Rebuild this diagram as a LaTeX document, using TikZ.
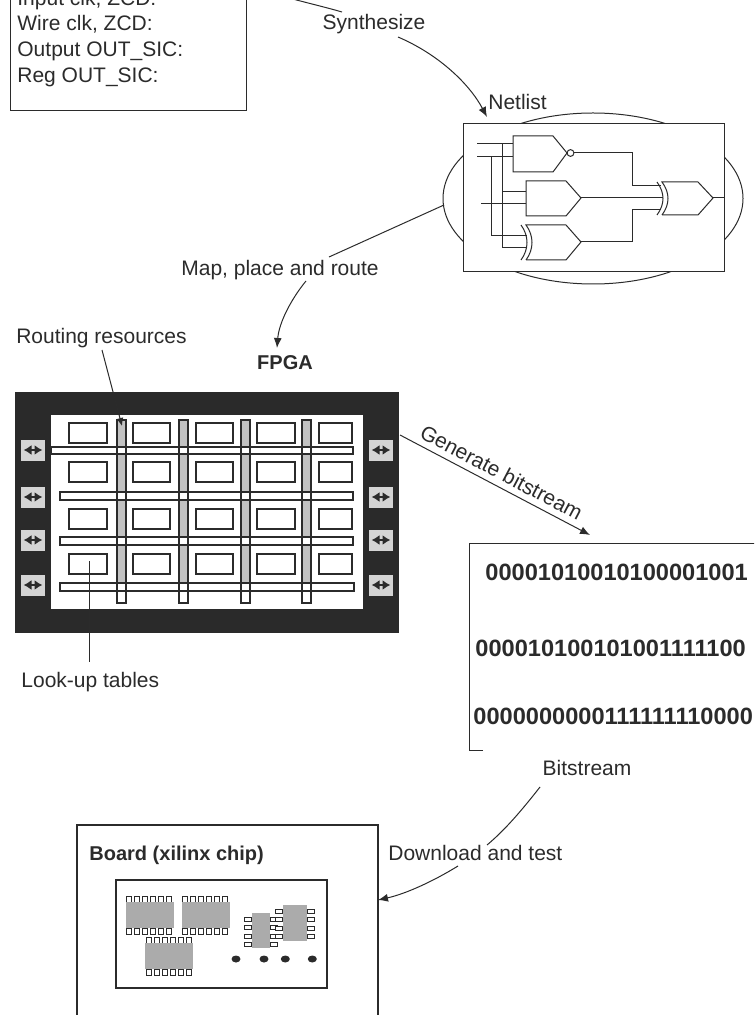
\documentclass[tikz,border=0pt]{standalone}
\usepackage{fontspec}
\setmainfont{Liberation Sans}
\usepackage{xcolor}
\usepackage{tikz}
\usetikzlibrary{arrows.meta}

\definecolor{ink}{HTML}{2B2B2B}
\definecolor{fpgaback}{HTML}{2A2A2A}
\definecolor{busgray}{HTML}{C2C2C2}
\definecolor{padgray}{HTML}{D4D4D4}
\definecolor{chipgray}{HTML}{ABABAB}

\tikzset{
  lbl/.style={font=\fontsize{10.5}{12}\selectfont,text=ink,inner sep=0pt},
  head/.style={lbl,font=\bfseries\fontsize{10}{12}\selectfont},
  bits/.style={lbl,font=\bfseries\fontsize{11.8}{14}\selectfont},
  wire/.style={draw=ink,line width=0.5pt},
  flow/.style={wire,-{Latex[length=5pt,width=4pt]}},
  lut/.style={draw=ink,fill=white,line width=0.6pt},
  pin/.style={draw=ink,fill=white,line width=0.4pt},
  io/.style={ink,line width=1.1pt,{Latex[length=4pt,width=5pt]}-{Latex[length=4pt,width=5pt]}},
}

% chip seen from above: #1 = left, #2 = top of the body
\newcommand{\hchip}[2]{%
  \foreach \k in {0,...,5}{
    \draw[pin] ({#1+1+8*\k},#2) rectangle ++(5,-6);
    \draw[pin] ({#1+1+8*\k},{#2+26}) rectangle ++(5,6);
  }
  \fill[chipgray] (#1,#2) rectangle ++(48,26);}
% upright chip: left, top, width, height
\newcommand{\vchip}[4]{%
  \foreach \k in {0,...,3}{
    \draw[pin] (#1,{#2+4+8.5*\k}) rectangle ++(-7,4);
    \draw[pin] ({#1+#3},{#2+4+8.5*\k}) rectangle ++(7,4);
  }
  \fill[chipgray] (#1,#2) rectangle ++(#3,#4);}

\begin{document}
\begin{tikzpicture}[x=0.5pt,y=-0.5pt]
        \useasboundingbox (0,0) rectangle (754,1015);
        \clip (0,0) rectangle (754,1015);

        %%% SOURCE %%%
        \draw[wire] (10,-30) rectangle (246,111);
        \node[lbl,anchor=base west] (src-in) at (17,5.2) {Input clk, ZCD:};
        \node[lbl,anchor=base west] (src-wire) at (17,31) {Wire clk, ZCD:};
        \node[lbl,anchor=base west] (src-out) at (17,56.8) {Output OUT\_SIC:};
        \node[lbl,anchor=base west] (src-reg) at (17,82.6) {Reg OUT\_SIC:};

        %%% SYNTHESIZE %%%
        \node[lbl,anchor=base] (synth) at (374,29.5) {Synthesize};
        \coordinate (src-tail) at (248,-14);
        \coordinate (synth-in) at (342,12);
        \coordinate (synth-out) at (398,37);
        \coordinate (net-tip) at (487,117);
        \draw[wire] (src-tail) .. controls (285,-2) and (318,5) .. (synth-in);
        \draw[flow] (synth-out) .. controls (440,55) and (470,85) .. (net-tip);

        %%% NETLIST %%%
        \node[lbl,anchor=base west] (netlist) at (488,110) {Netlist};
        \draw[wire] (593,198.5) ellipse [x radius=75pt,y radius=42.75pt];
        \node[draw=ink,fill=white,line width=0.5pt,minimum width=130.5pt,minimum height=74pt,inner sep=0pt] (netbox) at (593.5,198) {};
        % gates
        \draw[wire] (513,136) -- (553,136) -- (567,153) -- (553,172) -- (513,172) -- cycle;
        \draw[wire] (570.5,153) circle [radius=1.7pt];
        \draw[wire] (526,181) -- (566,181) -- (581,198) -- (566,216) -- (526,216) -- cycle;
        \draw[wire] (526,260) -- (566,260) -- (581,242) -- (566,225) -- (526,225) .. controls (534,236) and (534,249) .. (526,260);
        \draw[wire] (521,225) .. controls (529,236) and (529,249) .. (521,260);
        \draw[wire] (662,215) -- (698,215) -- (713,198) -- (698,182) -- (662,182) .. controls (670,193) and (670,204) .. (662,215);
        \draw[wire] (657,182) .. controls (665,193) and (665,204) .. (657,215);
        % nets
        \draw[wire] (477,144) -- (513,144);
        \draw[wire] (477,157) -- (513,157);
        \draw[wire] (491,157) |- (527,236);
        \draw[wire] (502,144) |- (527,248);
        \draw[wire] (502,192) -- (526,192);
        \draw[wire] (481,204) -- (526,204);
        \draw[wire] (574,153) -| (632,186) -- (661,186);
        \draw[wire] (581,198) -- (663,198);
        \draw[wire] (581,242) -| (632,210) -- (661,210);
        \draw[wire] (713,198) -- (724,198);

        %%% MAP, PLACE AND ROUTE %%%
        \node[lbl,anchor=base] (map) at (280,276) {Map, place and route};
        \coordinate (net-tail) at (444,205);
        \coordinate (map-in) at (329,257);
        \coordinate (map-out) at (306,281);
        \coordinate (fpga-tip) at (277,348);
        \draw[wire] (net-tail) -- (map-in);
        \draw[flow] (map-out) .. controls (292,298) and (279,322) .. (fpga-tip);

        %%% FPGA %%%
        \node[head,anchor=base] (fpga-lbl) at (285,370) {FPGA};
        \node[lbl,anchor=base] (route-lbl) at (101.5,344) {Routing resources};
        \node[fill=fpgaback,minimum width=192pt,minimum height=120.5pt,inner sep=0pt] (fpga) at (207,512.5) {};
        \node[fill=white,minimum width=156pt,minimum height=97pt,inner sep=0pt] (core) at (207,512) {};
        % look-up tables
        \foreach \x/\w in {69/38,133/37,196/37,257/38,319/33}
            \foreach \y in {423,462,509,554}
                \draw[lut] (\x,\y) rectangle ++(\w,20);
        % routing channels
        \foreach \x in {117,179,241,302}{
            \draw[lut] (\x,420) rectangle ++(9,183);
            \fill[busgray] (\x,420) rectangle ++(9,163);
        }
        \draw[lut] (51,447) rectangle (353,454);
        \draw[lut] (60,492) rectangle (353,500);
        \draw[lut] (60,537) rectangle (353,545);
        \draw[lut] (60,583) rectangle (354,591);
        \foreach \x in {117,179,241,302}
            \draw[ink,line width=0.6pt] (\x,420) rectangle ++(9,183);
        % i/o pads
        \foreach \y in {450,497,540,585}{
            \fill[padgray] (21,\y-10.5) rectangle ++(24,21);
            \fill[padgray] (369,\y-10.5) rectangle ++(24,21);
            \draw[io] (23.5,\y) -- (42.5,\y);
            \draw[io] (371.5,\y) -- (390.5,\y);
        }
        \coordinate (route-tail) at (102,350);
        \coordinate (route-tip) at (122,426);
        \draw[wire,-{Latex[length=4pt,width=3.5pt]}] (route-tail) -- (route-tip);
        \node[lbl,anchor=base west] (lut-lbl) at (21,687) {Look-up tables};
        \coordinate (lut-head) at (89,561);
        \coordinate (lut-tail) at (89,662);
        \draw[wire] (lut-head) -- (lut-tail);

        %%% BITSTREAM %%%
        \coordinate (gen-tail) at (400,435);
        \coordinate (bits-tip) at (590,535);
        \draw[flow] (gen-tail) -- node[lbl,above=3pt,sloped,midway] (gen) {Generate bitstream} (bits-tip);
        \draw[wire] (483,750) -- (469,750) -- (469,543) -- (760,543);
        \node[bits,anchor=base west] (bits-a) at (485,580.7) {00001010010100001001};
        \node[bits,anchor=base west] (bits-b) at (475,656) {000010100101001111100};
        \node[bits,anchor=base west] (bits-c) at (473,724) {0000000000111111110000};
        \node[lbl,anchor=base] (bits-lbl) at (587,775) {Bitstream};

        %%% DOWNLOAD %%%
        \node[lbl,anchor=base west] (dl) at (388,860) {Download and test};
        \coordinate (bits-tail) at (540,787);
        \coordinate (dl-in) at (487,845);
        \coordinate (dl-out) at (458,866);
        \coordinate (board-tip) at (378,900);
        \draw[wire] (bits-tail) .. controls (522,810) and (505,830) .. (dl-in);
        \draw[flow] (dl-out) .. controls (432,882) and (405,894) .. (board-tip);

        %%% BOARD %%%
        \node[draw=ink,line width=0.6pt,minimum width=150.5pt,minimum height=105pt,inner sep=0pt] (board) at (227.5,930) {};
        \node[head,anchor=base west] (board-lbl) at (89,860.7) {Board (xilinx chip)};
        \node[draw=ink,line width=0.6pt,minimum width=105.5pt,minimum height=54pt,inner sep=0pt] (pcb) at (221.5,934) {};
        \hchip{125.7}{902.3}
        \hchip{181.7}{902.3}
        \hchip{145.3}{943.3}
        \vchip{251.7}{913.3}{18.3}{34.4}
        \vchip{282.7}{905}{24.6}{35.7}
        \foreach \x in {236,264,285.3,312.3}
            \fill[ink] (\x,959) circle [x radius=2.25pt,y radius=1.75pt];
\end{tikzpicture}
\end{document}
